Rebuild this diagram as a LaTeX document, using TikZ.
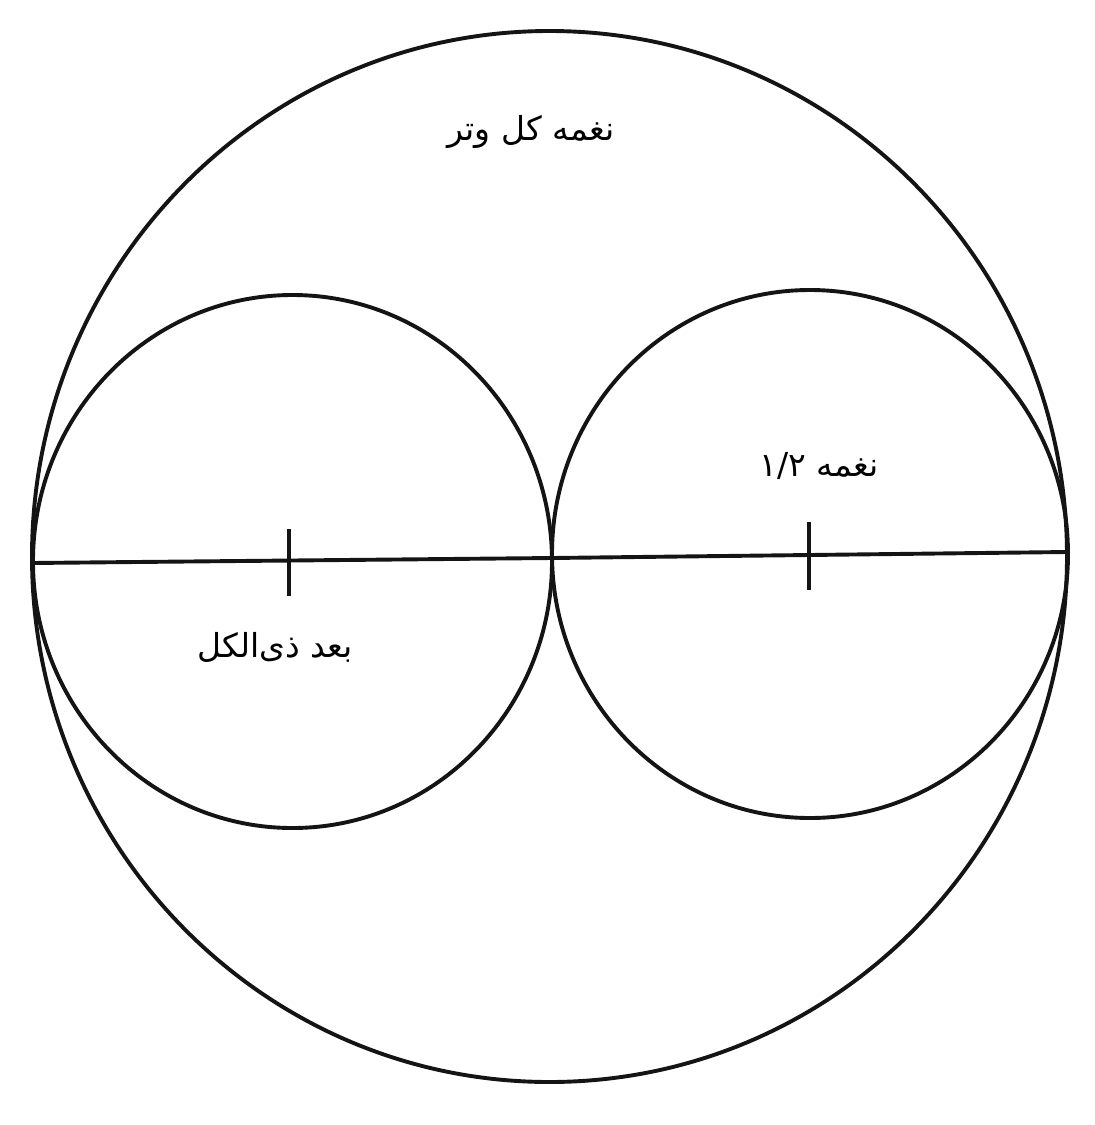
\documentclass[tikz,border=0pt]{standalone}
\usepackage{fontspec}
\newfontfamily\arabicfont[Script=Arabic]{DejaVu Sans}
\TeXXeTstate=1
\begin{document}
\begin{tikzpicture}[x=1pt,y=-1pt,
  curve/.style={line width=3.9pt, draw=black!92},
  lbl/.style={font=\arabicfont\fontsize{33}{38}\selectfont, inner sep=0pt, text=black}]
\useasboundingbox (0,0) rectangle (1095,1125);
\fill[white] (0,0) rectangle (1095,1125);
% circles
\draw[curve] (549.5,556.5) ellipse [x radius=517.5, y radius=525.5];
\draw[curve] (292.5,561.5) ellipse [x radius=259.5, y radius=266.5];
\draw[curve] (810,554) ellipse [x radius=258, y radius=264];
% diameter line
\coordinate (L) at (32,563);
\coordinate (M) at (552,558);
\coordinate (R) at (1067,552);
\draw[curve] (L) -- (M) -- (R);
% ticks
\coordinate (t1a) at (289,529);
\coordinate (t1b) at (289,596);
\coordinate (t2a) at (809,522);
\coordinate (t2b) at (809,590);
\draw[curve] (t1a) -- (t1b);
\draw[curve] (t2a) -- (t2b);
% labels
\node[lbl] (top) at (531,132) {\beginR نغمه کل وتر\endR};
\node[lbl] (half) at (819,466) {\beginR نغمه \beginL۱/۲\endL\endR};
\node[lbl] (octave) at (275,647) {\beginR بعد ذی‌الکل\endR};
\end{tikzpicture}
\end{document}
